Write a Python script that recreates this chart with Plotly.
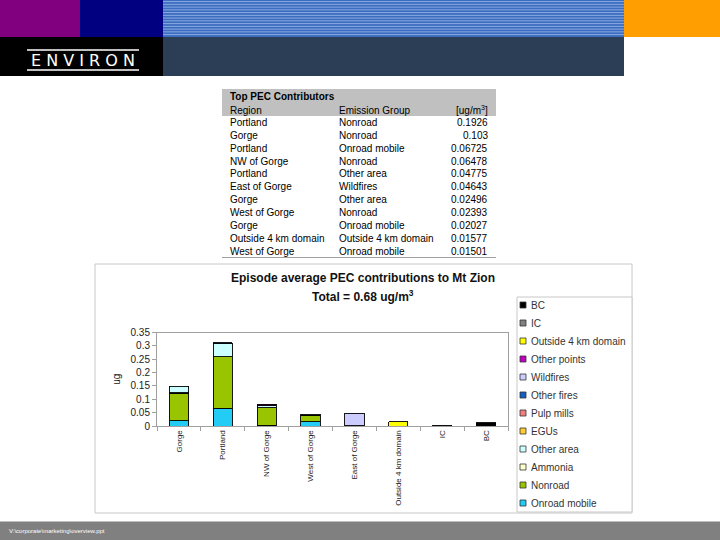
import plotly.graph_objects as go

W, H = 720, 540


def px(x):
    return x / W


def py(y):
    return 1 - y / H


# ---------------- data ----------------
categories = ["Gorge", "Portland", "NW of Gorge", "West of Gorge", "East of Gorge",
              "Outside 4 km domain", "IC", "BC"]

series_names = ["Onroad mobile", "Nonroad", "Ammonia", "Other area", "EGUs", "Pulp mills",
                "Other fires", "Wildfires", "Other points", "Outside 4 km domain", "IC", "BC"]
series_colors = ["#22ccf5", "#99c400", "#ffffcc", "#ccffff", "#ffcc33", "#f08080",
                 "#1060c0", "#ccccff", "#c000c0", "#ffff00", "#808080", "#000000"]

onroad_mobile = [0.020, 0.067, 0.003, 0.015, 0.0, 0.0, 0.0, 0.0]
nonroad = [0.103, 0.193, 0.065, 0.024, 0.001, 0.0, 0.0, 0.0]
ammonia = [0.001, 0.0, 0.0, 0.001, 0.0, 0.0, 0.0, 0.0]
other_area = [0.025, 0.048, 0.007, 0.004, 0.0, 0.0, 0.0, 0.0]
egus = [0.0, 0.0, 0.0, 0.0, 0.0, 0.0, 0.0, 0.0]
pulp_mills = [0.0, 0.0, 0.0, 0.0, 0.0, 0.0, 0.0, 0.0]
other_fires = [0.0, 0.003, 0.0, 0.0, 0.0, 0.0, 0.0, 0.0]
wildfires = [0.0, 0.0, 0.0, 0.0, 0.0464, 0.0, 0.0, 0.0]
other_points = [0.0, 0.0, 0.006, 0.0, 0.0, 0.0, 0.0, 0.0]
outside_domain = [0.0, 0.0, 0.0, 0.0, 0.0, 0.0158, 0.0, 0.0]
ic = [0.0, 0.0, 0.0, 0.0, 0.0, 0.0, 0.002, 0.0]
bc = [0.0, 0.0, 0.0, 0.0, 0.0, 0.0, 0.0, 0.013]

series_values = [onroad_mobile, nonroad, ammonia, other_area, egus, pulp_mills,
                 other_fires, wildfires, other_points, outside_domain, ic, bc]

y_ticks = [0, 0.05, 0.1, 0.15, 0.2, 0.25, 0.3, 0.35]
y_tick_labels = ["0", "0.05", "0.1", "0.15", "0.2", "0.25", "0.3", "0.35"]

table_title = "Top PEC Contributors"
table_columns = ["Region", "Emission Group", "[ug/m<sup>3</sup>]"]
table_regions = ["Portland", "Gorge", "Portland", "NW of Gorge", "Portland", "East of Gorge",
                 "Gorge", "West of Gorge", "Gorge", "Outside 4 km domain", "West of Gorge"]
table_groups = ["Nonroad", "Nonroad", "Onroad mobile", "Nonroad", "Other area", "Wildfires",
                "Other area", "Nonroad", "Onroad mobile", "Outside 4 km domain", "Onroad mobile"]
table_values = ["0.1926", "0.103", "0.06725", "0.06478", "0.04775", "0.04643",
                "0.02496", "0.02393", "0.02027", "0.01577", "0.01501"]

chart_title = "Episode average PEC contributions to Mt Zion"
chart_subtitle = "Total = 0.68 ug/m<sup>3</sup>"
y_title = "ug"
footer_text = "V:\\corporate\\marketing\\overview.ppt"

FONT = "Liberation Sans, Arial, sans-serif"

fig = go.Figure()

for name, color, vals in zip(series_names, series_colors, series_values):
    fig.add_trace(go.Bar(
        x=categories,
        y=[v if v > 0 else None for v in vals],
        name=name,
        marker=dict(color=color, line=dict(color="#000000", width=0.9)),
        showlegend=False,
        hoverinfo="skip",
    ))

shapes = []
annotations = []

# ---------------- slide header ----------------
shapes.append(dict(type="rect", xref="paper", yref="paper", x0=px(0), x1=px(80), y0=py(37), y1=py(0),
                   fillcolor="#800080", line=dict(width=0), layer="below"))
shapes.append(dict(type="rect", xref="paper", yref="paper", x0=px(80), x1=px(163), y0=py(37), y1=py(0),
                   fillcolor="#000080", line=dict(width=0), layer="below"))
shapes.append(dict(type="rect", xref="paper", yref="paper", x0=px(163), x1=px(624), y0=py(37), y1=py(0),
                   fillcolor="#3c6cc0", line=dict(width=0), layer="below"))
yy = 1.6
while yy < 37:
    shapes.append(dict(type="line", xref="paper", yref="paper", x0=px(163), x1=px(624), y0=py(yy), y1=py(yy),
                       line=dict(color="#9dbbe8", width=0.8), layer="below"))
    yy += 2.75
shapes.append(dict(type="rect", xref="paper", yref="paper", x0=px(624), x1=px(720), y0=py(37), y1=py(0),
                   fillcolor="#ff9e00", line=dict(width=0), layer="below"))
shapes.append(dict(type="rect", xref="paper", yref="paper", x0=px(0), x1=px(163), y0=py(76), y1=py(37),
                   fillcolor="#000000", line=dict(width=0), layer="below"))
shapes.append(dict(type="rect", xref="paper", yref="paper", x0=px(163), x1=px(624), y0=py(76), y1=py(37),
                   fillcolor="#2c3e56", line=dict(width=0), layer="below"))
# logo lines
for ly in (50, 70):
    shapes.append(dict(type="line", xref="paper", yref="paper", x0=px(27), x1=px(139), y0=py(ly), y1=py(ly),
                       line=dict(color="#ffffff", width=1.5)))
annotations.append(dict(text="E N V I R O N", xref="paper", yref="paper", x=px(83), y=py(60),
                        xanchor="center", yanchor="middle", showarrow=False,
                        font=dict(family="DejaVu Sans, sans-serif", size=16, color="#ffffff")))

# ---------------- table ----------------
shapes.append(dict(type="rect", xref="paper", yref="paper", x0=px(222), x1=px(496), y0=py(116), y1=py(89),
                   fillcolor="#c0c0c0", line=dict(width=0), layer="below"))
shapes.append(dict(type="line", xref="paper", yref="paper", x0=px(222), x1=px(496), y0=py(257.5), y1=py(257.5),
                   line=dict(color="#a0a0a0", width=1)))
annotations.append(dict(text="<b>" + table_title + "</b>", xref="paper", yref="paper", x=px(228), y=py(97),
                        xanchor="left", yanchor="middle", showarrow=False,
                        font=dict(family=FONT, size=10, color="#000000")))
col_x = [228, 337, 490]
col_anchor = ["left", "left", "right"]
for cx, ca, ct in zip(col_x, col_anchor, table_columns):
    annotations.append(dict(text=ct, xref="paper", yref="paper", x=px(cx), y=py(110),
                            xanchor=ca, yanchor="middle", showarrow=False,
                            font=dict(family=FONT, size=10, color="#000000")))
for i, (r, g, v) in enumerate(zip(table_regions, table_groups, table_values)):
    ry = 122.5 + i * 12.85
    for cx, ca, ct in zip(col_x, col_anchor, (r, g, v)):
        annotations.append(dict(text=ct, xref="paper", yref="paper", x=px(cx), y=py(ry),
                                xanchor=ca, yanchor="middle", showarrow=False,
                                font=dict(family=FONT, size=10, color="#000000")))

# ---------------- chart panel ----------------
shapes.append(dict(type="rect", xref="paper", yref="paper", x0=px(95), x1=px(632), y0=py(513), y1=py(264),
                   fillcolor="rgba(0,0,0,0)", line=dict(color="#c8c8c8", width=1)))
annotations.append(dict(text="<b>" + chart_title + "</b>", xref="paper", yref="paper", x=px(363), y=py(278),
                        xanchor="center", yanchor="middle", showarrow=False,
                        font=dict(family=FONT, size=12, color="#111111")))
annotations.append(dict(text="<b>" + chart_subtitle + "</b>", xref="paper", yref="paper", x=px(363), y=py(296),
                        xanchor="center", yanchor="middle", showarrow=False,
                        font=dict(family=FONT, size=12, color="#111111")))

# custom legend
lx0, ly0 = 517, 297
shapes.append(dict(type="rect", xref="paper", yref="paper", x0=px(lx0), x1=px(632), y0=py(512), y1=py(ly0),
                   fillcolor="#ffffff", line=dict(color="#c8c8c8", width=1)))
legend_items = list(zip(series_names, series_colors))[::-1]
for i, (name, color) in enumerate(legend_items):
    cy = 305 + i * 18
    shapes.append(dict(type="rect", xref="paper", yref="paper", x0=px(520), x1=px(526), y0=py(cy + 3),
                       y1=py(cy - 3), fillcolor=color, line=dict(color="#333333", width=0.8)))
    annotations.append(dict(text=name, xref="paper", yref="paper", x=px(529), y=py(cy),
                            xanchor="left", yanchor="middle", showarrow=False,
                            font=dict(family=FONT, size=10, color="#333333")))

# ---------------- footer ----------------
shapes.append(dict(type="rect", xref="paper", yref="paper", x0=0, x1=1, y0=0, y1=py(521.5),
                   fillcolor="#808080", line=dict(width=0), layer="below"))
annotations.append(dict(text=footer_text, xref="paper", yref="paper", x=px(7), y=py(530.5),
                        xanchor="left", yanchor="middle", showarrow=False,
                        font=dict(family=FONT, size=6, color="#ffffff")))

fig.update_layout(
    width=W, height=H,
    margin=dict(l=0, r=0, t=0, b=0, pad=0, autoexpand=False),
    paper_bgcolor="#ffffff",
    plot_bgcolor="#ffffff",
    barmode="stack",
    bargap=0.56,
    shapes=shapes,
    annotations=annotations,
    showlegend=False,
    hovermode=False,
    font=dict(family=FONT, color="#222222"),
    xaxis=dict(
        domain=[px(157), px(508)],
        type="category",
        automargin=False,
        showline=True, linecolor="#a0a0a0", linewidth=1, mirror=True,
        ticks="outside", tickson="boundaries", ticklen=4, tickcolor="#a0a0a0",
        tickangle=-90,
        tickfont=dict(family=FONT, size=8, color="#222222"),
        showgrid=False, zeroline=False,
    ),
    yaxis=dict(
        domain=[py(426), py(332.5)],
        range=[0, 0.35],
        automargin=False,
        tickvals=y_ticks, ticktext=y_tick_labels,
        showline=True, linecolor="#a0a0a0", linewidth=1, mirror=True,
        ticks="outside", ticklen=4, tickcolor="#a0a0a0",
        tickfont=dict(family=FONT, size=10, color="#222222"),
        showgrid=False, zeroline=False,
        title=dict(text=y_title, font=dict(family=FONT, size=10, color="#222222"), standoff=8),
    ),
)

post = (
    "var s=document.createElement('style');"
    "s.innerHTML='html,body{margin:0;padding:0;overflow:hidden;}';"
    "document.head.appendChild(s);"
)

fig.write_html("out.html", config={"displayModeBar": False, "staticPlot": True}, post_script=post)
